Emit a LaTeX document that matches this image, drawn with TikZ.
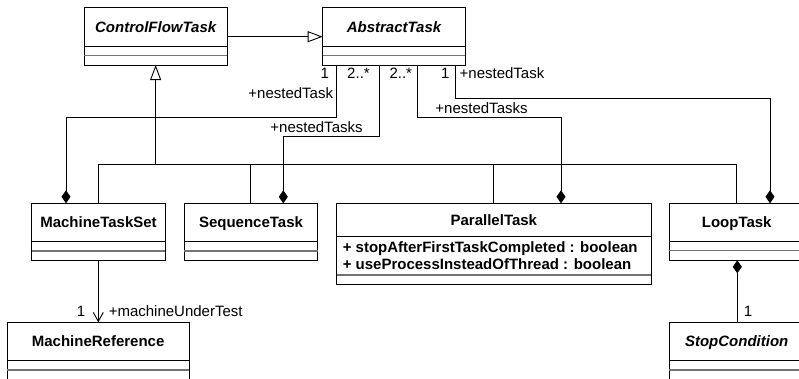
\documentclass[tikz,border=0pt]{standalone}
\usepackage{fontspec}
\setmainfont{Liberation Sans}
\usetikzlibrary{arrows.meta}

% horizontal compartment separators of a class box
\newcommand\classdividers[3]{%
  \draw (#1.west |- 0,#2) -- (#1.east |- 0,#2);
  \draw[opsline] (#1.west |- 0,#3) -- (#1.east |- 0,#3);
}

\begin{document}
\begin{tikzpicture}[x=1pt,y=-1pt,
  line width=0.9pt,
  classbox/.style={draw, line width=0.9pt, anchor=north west, inner sep=0pt, outer sep=0pt},
  title/.style={font=\fontsize{15}{18}\selectfont\bfseries, anchor=base, inner sep=0pt},
  abstitle/.style={title, font=\fontsize{15}{18}\selectfont\bfseries\itshape},
  attr/.style={font=\fontsize{15}{18}\selectfont\bfseries, anchor=base west, inner sep=0pt},
  lbl/.style={font=\fontsize{15}{18}\selectfont, inner sep=0pt},
  opsline/.style={draw=black!55, line width=1.1pt},
  generalize/.style={-{Triangle[open, length=15pt, width=11pt, fill=white]}},
  compose/.style={-{Diamond[length=13pt, width=9pt]}},
  navigate/.style={-{Straight Barb[length=9pt, width=10pt]}},
]
\useasboundingbox (0,0) rectangle (799,378);
\clip (0,0) rectangle (799,378);

% ---- classes ----
\node[classbox, minimum width=143.3pt, minimum height=57.7pt] (cft) at (84,7.3) {};
\node[abstitle] at (155.65,32.2) {ControlFlowTask};
\classdividers{cft}{46}{55.7}

\node[classbox, minimum width=142.6pt, minimum height=57.7pt] (abs) at (322.7,7.3) {};
\node[abstitle] at (394,32.2) {AbstractTask};
\classdividers{abs}{46}{55.7}

\node[classbox, minimum width=133.6pt, minimum height=57pt] (mts) at (31.7,203.3) {};
\node[title] at (98.5,227.7) {MachineTaskSet};
\classdividers{mts}{241.7}{251}

\node[classbox, minimum width=133.4pt, minimum height=57pt] (seq) at (184.3,203.3) {};
\node[title] at (251,227.7) {SequenceTask};
\classdividers{seq}{241.7}{251}

\node[classbox, minimum width=314.3pt, minimum height=81pt] (par) at (336.7,203.3) {};
\node[title] at (493.85,225.3) {ParallelTask};
\classdividers{par}{236.7}{275}
\node[attr] at (342.3,252.8) {+ stopAfterFirstTaskCompleted : boolean};
\node[attr] at (342.3,269) {+ useProcessInsteadOfThread : boolean};

\node[classbox, minimum width=134.8pt, minimum height=57pt] (loop) at (669.3,203.3) {};
\node[title] at (736.7,227.7) {LoopTask};
\classdividers{loop}{241}{250.3}

\node[classbox, minimum width=181.7pt, minimum height=57pt] (mref) at (7.3,322.3) {};
\node[title] at (98.15,346.5) {MachineReference};
\classdividers{mref}{360.7}{370}

\node[classbox, minimum width=134.8pt, minimum height=57pt] (stop) at (669.3,322.3) {};
\node[abstitle] at (736.7,346.5) {StopCondition};
\classdividers{stop}{360.7}{370}

% ---- generalizations ----
\draw[generalize] (cft.east |- 0,36.7) -- (abs.west |- 0,36.7);
\coordinate (bus) at (155.65,164.7);
\draw[generalize] (bus) -- (cft.south);
\draw (mts.north -| 98,0) -- (98,164.7) -- (736.7,164.7) -- (loop.north -| 736.7,0);
\draw (seq.north -| 250.7,0) -- (250.7,164.7);
\draw (par.north -| 493.7,0) -- (493.7,164.7);

% ---- compositions ----
\draw[compose] (abs.south -| 336.7,0) |- (66,117.3) -- (mts.north -| 66,0);
\draw[compose] (abs.south -| 379.3,0) |- (283.3,136) -- (seq.north -| 283.3,0);
\draw[compose] (abs.south -| 417,0) |- (561,117.3) -- (par.north -| 561,0);
\draw[compose] (abs.south -| 455,0) |- (770,98.3) -- (loop.north -| 770,0);
\draw[compose] (stop.north -| 737.3,0) -- (loop.south -| 737.3,0);

% ---- navigable association ----
\draw[navigate] (mts.south -| 98.3,0) -- (mref.north -| 98.3,0);

% ---- role names and multiplicities ----
\node[lbl, anchor=base] at (324.8,78) {1};
\node[lbl, anchor=base east] at (333.5,98) {+nestedTask};
\node[lbl, anchor=base] at (358.5,78) {2..*};
\node[lbl, anchor=base west] at (270,132) {+nestedTasks};
\node[lbl, anchor=base] at (400.8,78) {2..*};
\node[lbl, anchor=base west] at (435,113.3) {+nestedTasks};
\node[lbl, anchor=base] at (445.4,78) {1};
\node[lbl, anchor=base west] at (459.2,78) {+nestedTask};
\node[lbl, anchor=base] at (81,316) {1};
\node[lbl, anchor=base west] at (108.3,316) {+machineUnderTest};
\node[lbl, anchor=base] at (748,316.5) {1};
\end{tikzpicture}
\end{document}
